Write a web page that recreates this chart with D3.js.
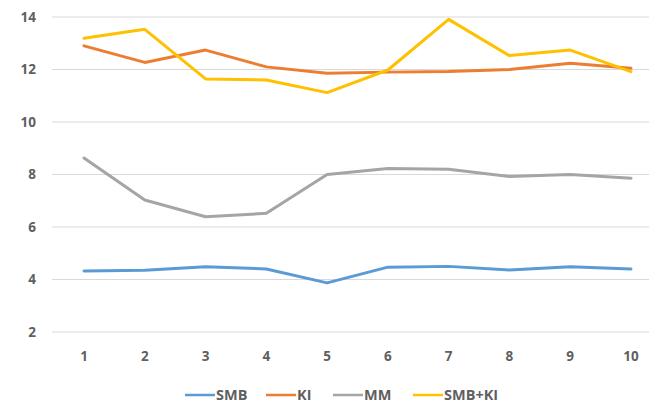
<!DOCTYPE html>
<html>
<head>
<meta charset="utf-8">
<script src="https://cdn.jsdelivr.net/npm/d3@7"></script>
<style>
  html, body { margin: 0; padding: 0; background: #fff; }
  svg { display: block; }
  text { font-family: "Open Sans", "Liberation Sans", sans-serif; fill: #5f5f5f; }
</style>
</head>
<body>
<svg id="chart" width="649" height="408"></svg>
<script>
// Runs 1..10 for each treatment
const categories = [1, 2, 3, 4, 5, 6, 7, 8, 9, 10];
const smb   = [4.32, 4.35, 4.49, 4.40, 3.87, 4.47, 4.50, 4.36, 4.49, 4.40];
const ki    = [12.90, 12.27, 12.74, 12.10, 11.86, 11.90, 11.92, 12.00, 12.24, 12.05];
const mm    = [8.63, 7.03, 6.39, 6.52, 8.00, 8.23, 8.20, 7.92, 8.00, 7.86];
const smbKi = [13.19, 13.53, 11.64, 11.60, 11.12, 11.98, 13.91, 12.53, 12.74, 11.92];
const yTicks = [2, 4, 6, 8, 10, 12, 14];

const seriesNames = ["SMB", "KI", "MM", "SMB+KI"];
const seriesValues = [smb, ki, mm, smbKi];
const seriesColors = ["#5b9bd5", "#ed7d31", "#a5a5a5", "#ffc000"];

const svg = d3.select("#chart");

const x = d3.scalePoint().domain(categories).range([84, 631]);
const y = d3.scaleLinear().domain([2, 14]).range([332, 17]);

// Horizontal gridlines
svg.append("g")
  .selectAll("line")
  .data(yTicks)
  .join("line")
  .attr("x1", 52).attr("x2", 649)
  .attr("y1", d => y(d)).attr("y2", d => y(d))
  .attr("stroke", "#d9d9d9").attr("stroke-width", 1);

// Y tick labels
svg.append("g")
  .selectAll("text")
  .data(yTicks)
  .join("text")
  .attr("x", 36).attr("y", d => y(d))
  .attr("dy", "0.35em")
  .attr("text-anchor", "end")
  .attr("font-size", 13.5)
  .attr("font-weight", 700)
  .text(d => d);

// X tick labels
svg.append("g")
  .selectAll("text")
  .data(categories)
  .join("text")
  .attr("x", d => x(d)).attr("y", 356)
  .attr("dy", "0.35em")
  .attr("text-anchor", "middle")
  .attr("font-size", 13.5)
  .attr("font-weight", 700)
  .text(d => d);

// Series lines
const line = d3.line()
  .x((d, i) => x(categories[i]))
  .y(d => y(d));

svg.append("g")
  .selectAll("path")
  .data(seriesValues)
  .join("path")
  .attr("d", d => line(d))
  .attr("fill", "none")
  .attr("stroke", (d, i) => seriesColors[i])
  .attr("stroke-width", 3)
  .attr("stroke-linejoin", "round")
  .attr("stroke-linecap", "round");

// Legend
const legendX = [185, 266, 333, 413];
const legend = svg.append("g")
  .selectAll("g")
  .data(seriesNames)
  .join("g")
  .attr("transform", (d, i) => `translate(${legendX[i]},395)`);

legend.append("line")
  .attr("x1", 0).attr("x2", 30)
  .attr("y1", 0).attr("y2", 0)
  .attr("stroke", (d, i) => seriesColors[i])
  .attr("stroke-width", 2.5);

legend.append("text")
  .attr("x", 31).attr("y", 0)
  .attr("dy", "0.35em")
  .attr("font-size", 14.5)
  .attr("font-weight", 700)
  .text(d => d);
</script>
</body>
</html>
